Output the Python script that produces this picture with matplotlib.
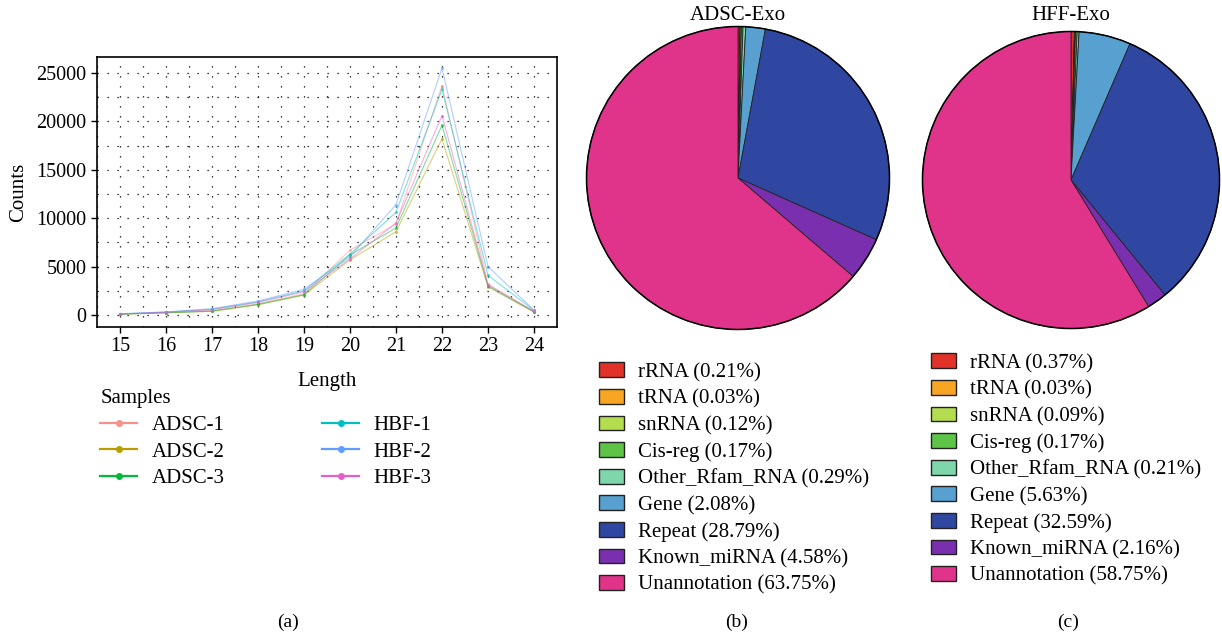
import numpy as np
import matplotlib as mpl
import matplotlib.pyplot as plt

mpl.rcParams['font.family'] = ['Liberation Serif', 'DejaVu Serif']
mpl.rcParams['font.size'] = 14

# read length distribution (counts per read length)
lengths = [15, 16, 17, 18, 19, 20, 21, 22, 23, 24]
samples = ['ADSC-1', 'ADSC-2', 'ADSC-3', 'HBF-1', 'HBF-2', 'HBF-3']
adsc_1 = [100, 250, 450, 1150, 2200, 6700, 9400, 23700, 3200, 350]
adsc_2 = [80, 220, 380, 1050, 2050, 5700, 8600, 18200, 2900, 300]
adsc_3 = [90, 230, 400, 1100, 2100, 6200, 9000, 19600, 3000, 320]
hbf_1 = [110, 300, 600, 1350, 2500, 6300, 10600, 23300, 4100, 480]
hbf_2 = [120, 320, 650, 1450, 2650, 6000, 11400, 25500, 5000, 500]
hbf_3 = [100, 280, 550, 1300, 2400, 5800, 9500, 20600, 3100, 400]
line_colors = ['#F8918A', '#B79F00', '#00BA38', '#00BFC4', '#619CFF', '#E45FCB']

# small RNA annotation (percent)
categories = ['rRNA', 'tRNA', 'snRNA', 'Cis-reg', 'Other_Rfam_RNA',
              'Gene', 'Repeat', 'Known_miRNA', 'Unannotation']
adsc_exo = [0.21, 0.03, 0.12, 0.17, 0.29, 2.08, 28.79, 4.58, 63.75]
hff_exo = [0.37, 0.03, 0.09, 0.17, 0.21, 5.63, 32.59, 2.16, 58.75]
pie_colors = ['#E03228', '#F6A623', '#B3DD4F', '#5EC447', '#7DD7AA',
              '#57A0D0', '#2F47A0', '#7A30AE', '#E0338A']

W, H = 1222, 640
fig = plt.figure(figsize=(W / 100, H / 100), dpi=100)


def px_axes(x0, y0, x1, y1):
    # axes from pixel box (top-left origin)
    return fig.add_axes([x0 / W, 1 - y1 / H, (x1 - x0) / W, (y1 - y0) / H])


# ---- (a) line chart
ax = px_axes(97, 57, 557, 327)
series = [adsc_1, adsc_2, adsc_3, hbf_1, hbf_2, hbf_3]
for name, vals, c in zip(samples, series, line_colors):
    ax.plot(lengths, vals, color=c, lw=0.8, alpha=0.5,
            marker='o', ms=1.3, label=name)

ax.set_xlim(14.55, 24.41)
ax.set_ylim(-1240, 26650)
ax.set_xticks(lengths)
ax.set_yticks(np.arange(0, 25001, 5000))
ax.set_xticks(np.arange(14.5, 24.6, 0.5), minor=True)
ax.set_yticks(np.arange(0, 26000, 2500), minor=True)
ax.tick_params(which='minor', length=0)
ax.tick_params(which='major', length=4, width=1, labelsize=14.5)
ax.grid(which='both', axis='both', color='black', lw=0.9,
        linestyle=(0, (1, 7)))
for s in ax.spines.values():
    s.set_linewidth(1.2)
ax.set_xlabel('Length', fontsize=15, labelpad=11)
ax.set_ylabel('Counts', fontsize=15, labelpad=6)

handles = [plt.Line2D([], [], color=c, lw=1.6, marker='o', ms=4)
           for c in line_colors]
leg = fig.legend(handles, samples, ncol=2, title='Samples',
                 loc='upper left', bbox_to_anchor=(90 / W, 1 - 379 / H),
                 frameon=False, fontsize=15, title_fontsize=15,
                 handlelength=1.75, handletextpad=0.7, columnspacing=4.7,
                 labelspacing=0.34, alignment='left', borderpad=0)

# ---- (b), (c) pies
def draw_pie(cx, cy, r, vals, title, lx, ly):
    pax = px_axes(cx - r, cy - r, cx + r, cy + r)
    wedges, _ = pax.pie(vals, colors=pie_colors, startangle=90,
                        counterclock=False, radius=1,
                        wedgeprops=dict(edgecolor='#222222', linewidth=0.6))
    pax.add_patch(plt.Circle((0, 0), 1, fill=False, ec='black', lw=1.1))
    pax.set_xlim(-1.01, 1.01)
    pax.set_ylim(-1.01, 1.01)
    pax.set_aspect('auto')
    pax.set_axis_off()
    fig.text(cx / W, 1 - 16 / H, title, ha='center', va='center',
             fontsize=15)
    labels = ['%s (%.2f%%)' % (c, v) for c, v in zip(categories, vals)]
    hd = [mpl.patches.Patch(facecolor=c, edgecolor='#222222', lw=1.0)
          for c in pie_colors]
    fig.legend(hd, labels, loc='upper left',
               bbox_to_anchor=(lx / W, 1 - ly / H), frameon=False,
               fontsize=15, handlelength=1.2, handleheight=0.72,
               handletextpad=0.65, labelspacing=0.33, borderpad=0)


draw_pie(738, 178, 153, adsc_exo, 'ADSC-Exo', 589, 352)
draw_pie(1071, 180, 150, hff_exo, 'HFF-Exo', 921, 343)

for x, t in [(288, '(a)'), (737, '(b)'), (1068, '(c)')]:
    fig.text(x / W, 1 - 622 / H, t, ha='center', va='center', fontsize=14)

fig.savefig('out.png', dpi=100)
